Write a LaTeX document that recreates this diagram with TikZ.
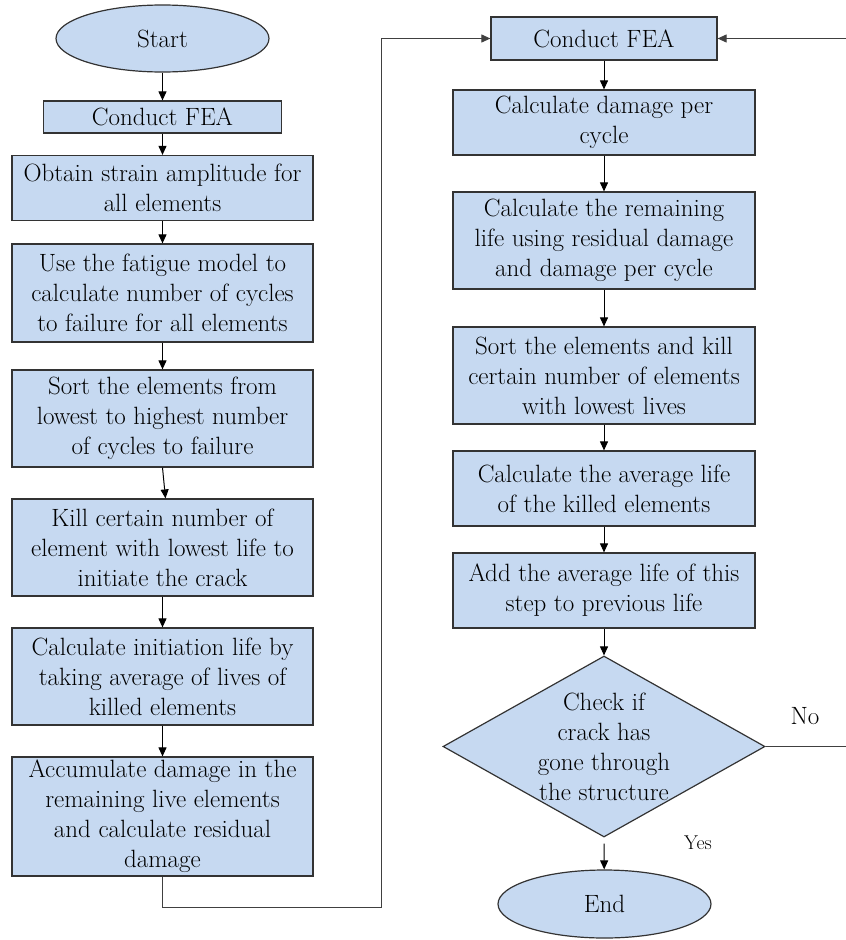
\documentclass[tikz,border=0pt]{standalone}
\usepackage{mathptmx}
\usepackage{tikz}
\usetikzlibrary{arrows.meta, shapes.geometric}
\definecolor{boxblue}{HTML}{C6D9F1}
\definecolor{edgegray}{HTML}{333333}
\tikzset{
    process/.style={draw=edgegray, line width=1.2pt, fill=boxblue, inner sep=0pt,
        align=center, font=\fontsize{25}{30}\selectfont},
    terminal/.style={process, ellipse, minimum width=213, minimum height=67},
    decision/.style={process, diamond, minimum width=322, minimum height=181},
    flow/.style={line width=1pt, -{Triangle[length=9pt,width=8pt]}},
    loopline/.style={flow, draw=black!75},
    tag/.style={font=\fontsize{#1}{#1}\selectfont}
}

\begin{document}
\begin{tikzpicture}[x=1pt,y=-1pt]
        \useasboundingbox (0,0) rectangle (846,940);
        \node[terminal] (start) at (162.5,38.5) {Start};
        \node[process, minimum width=238, minimum height=32] (fea1) at (162.5,117) {Conduct FEA};
        \node[process, minimum width=301, minimum height=65] (obtain) at (162.5,188) {Obtain strain amplitude for\\all elements};
        \node[process, minimum width=301, minimum height=98] (fatigue) at (162.5,293) {Use the fatigue model to\\calculate number of cycles\\to failure for all elements};
        \node[process, minimum width=301, minimum height=97] (sortlow) at (162.5,418.5) {Sort the elements from\\lowest to highest number\\of cycles  to failure};
        \node[process, minimum width=301, minimum height=97] (kill) at (162.5,547.5) {Kill certain number of\\element with lowest life to\\initiate the crack};
        \node[process, minimum width=301, minimum height=97] (initlife) at (162.5,676.5) {Calculate initiation life by\\taking average of lives of\\killed elements};
        \node[process, minimum width=301, minimum height=119] (accum) at (162.5,816.5) {Accumulate damage in the\\remaining live elements\\and calculate residual\\damage};

        \node[process, minimum width=226, minimum height=43] (fea2) at (604,38.5) {Conduct FEA};
        \node[process, minimum width=302, minimum height=65] (dpc) at (604,122.5) {Calculate damage per\\cycle};
        \node[process, minimum width=302, minimum height=97] (remain) at (604,240.5) {Calculate the remaining\\life using residual damage\\and damage per cycle};
        \node[process, minimum width=302, minimum height=97] (sortkill) at (604,375.5) {Sort the elements and kill\\certain number of elements\\with lowest lives};
        \node[process, minimum width=302, minimum height=75] (avglife) at (604,488.5) {Calculate the average life\\of the killed elements};
        \node[process, minimum width=302, minimum height=75] (addlife) at (604,590.5) {Add the average life of this\\step to previous life};
        \node[decision, label={[align=center, font=\fontsize{25}{30}\selectfont]center:Check if\\crack has\\gone through\\the structure}] (check) at (604,746.5) {};
        \node[terminal, minimum height=68] (end) at (604.5,904) {End};

        \node[tag=25] (no) at (805,716) {No};
        \node[tag=20] (yes) at (698,843) {Yes};

        \draw[flow] (start) -- (fea1);
        \draw[flow] (fea1) -- (obtain);
        \draw[flow] (obtain) -- (fatigue);
        \draw[flow] (fatigue) -- (sortlow);
        \draw[flow] (sortlow.south) -- ([xshift=3pt]kill.north);
        \draw[flow] (kill) -- (initlife);
        \draw[flow] (initlife) -- (accum);
        \draw[loopline] (accum.south) |- (381,907) |- (fea2.west);

        \draw[flow] (fea2) -- (dpc);
        \draw[flow] (dpc) -- (remain);
        \draw[flow] (remain) -- (sortkill);
        \draw[flow] (sortkill) -- (avglife);
        \draw[flow] (avglife) -- (addlife);
        \draw[flow] (addlife) -- (check);
        \draw[flow] ([yshift=-6pt]check.south) -- (end);
        \draw[loopline] (check.east) -- (852,746.5) |- (fea2.east);
\end{tikzpicture}
\end{document}
